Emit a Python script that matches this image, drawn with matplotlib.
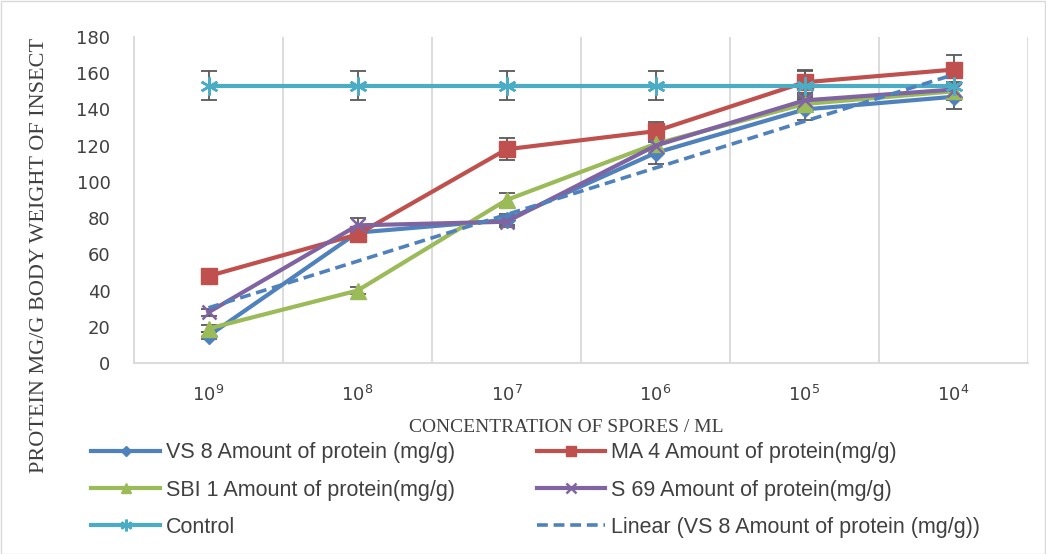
import matplotlib
matplotlib.use("Agg")
import matplotlib.pyplot as plt
import numpy as np
from matplotlib.patches import Rectangle

# data
concentrations = ["9", "8", "7", "6", "5", "4"]  # exponents of 10
vs8 = [15, 72, 79, 116, 140, 147]
ma4 = [48, 71, 118, 128, 155, 162]
sbi1 = [19, 40, 90, 121, 143, 150]
s69 = [28, 76, 78, 120, 145, 151]
control = [153, 153, 153, 153, 153, 153]

vs8_err = [2, 3, 3, 6, 6, 7]
ma4_err = [3, 3, 6, 5, 7, 8]
sbi1_err = [2, 2, 4, 4, 4, 4]
s69_err = [2, 4, 3, 4, 4, 4]
control_err = [8, 8, 8, 8, 8, 8]

W, H = 1046, 554
fig = plt.figure(figsize=(W / 100, H / 100), dpi=100)
ax = fig.add_axes([134 / W, 1 - 363 / H, (1028 - 134) / W, (363 - 37) / H])

x = np.arange(len(concentrations))
err_kw = dict(ecolor="#595959", elinewidth=1.3, capsize=6, capthick=1.3)

series = [
    ("VS 8 Amount of protein (mg/g)", vs8, vs8_err, "#4F81BD", "D", 8),
    ("MA 4 Amount of protein(mg/g)", ma4, ma4_err, "#C0504D", "s", 11),
    ("SBI 1 Amount of protein(mg/g)", sbi1, sbi1_err, "#9BBB59", "^", 11),
    ("S 69 Amount of protein(mg/g)", s69, s69_err, "#8064A2", "x", 10),
    ("Control", control, control_err, "#4BACC6", (6, 2, 0), 13),
]

handles = {}
for label, vals, err, color, marker, ms in series:
    ax.errorbar(x, vals, yerr=err, fmt="none", zorder=2, **err_kw)
    thin = marker == "x" or isinstance(marker, tuple)
    (ln,) = ax.plot(x, vals, color=color, lw=3, marker=marker, markersize=ms,
                    markeredgewidth=1.8 if thin else 1,
                    markeredgecolor=color, label=label, zorder=3)
    handles[label] = ln

# linear trendline for VS 8
coef = np.polyfit(x + 1, vs8, 1)
trend = np.polyval(coef, x + 1)
(tl,) = ax.plot(x, trend, color="#4F81BD", lw=2.6, ls=(0, (3, 1.6)),
                label="Linear (VS 8 Amount of protein (mg/g))", zorder=4)

ax.set_xlim(-0.5, len(x) - 0.5)
ax.set_ylim(0, 180)
ax.set_yticks(np.arange(0, 181, 20))
ax.set_xticks(x)
ax.set_xticklabels([r"$\mathregular{10^{%s}}$" % c for c in concentrations])
for b in np.arange(0.5, len(x), 1.0):
    ax.axvline(b, color="#D9D9D9", lw=1.3, zorder=0)

for s in ["top", "right"]:
    ax.spines[s].set_visible(False)
for s in ["left", "bottom"]:
    ax.spines[s].set_color("#D9D9D9")
    ax.spines[s].set_linewidth(1.3)
ax.tick_params(axis="both", length=0, labelsize=13, colors="#404040")
ax.tick_params(axis="x", pad=16)
ax.tick_params(axis="y", pad=17)

serif = ["Liberation Serif", "DejaVu Serif"]
fig.text(566 / W, 1 - 427 / H, "CONCENTRATION OF SPORES / ML", ha="center", va="center",
         fontsize=14, family=serif, color="#404040")
fig.text(40 / W, 1 - 255 / H, "PROTEIN MG/G BODY WEIGHT OF INSECT", ha="center", va="center",
         rotation=90, fontsize=16, family=serif, color="#404040")

order = ["VS 8 Amount of protein (mg/g)", "SBI 1 Amount of protein(mg/g)", "Control",
         "MA 4 Amount of protein(mg/g)", "S 69 Amount of protein(mg/g)"]
hs = [handles[k] for k in order] + [tl]
leg = fig.legend(hs, [h.get_label() for h in hs], ncol=2, frameon=False,
                 loc="upper left", bbox_to_anchor=(72 / W, 1 - 423 / H),
                 prop={"family": ["Liberation Sans", "DejaVu Sans"], "size": 15.5},
                 handlelength=3.2, handletextpad=0.25, columnspacing=3.8,
                 labelspacing=0.75, markerscale=0.65, labelcolor="#404040")

fig.patches.append(Rectangle((0.5 / W, 0.5 / H), 1 - 1.5 / W, 1 - 1.5 / H,
                             transform=fig.transFigure, fill=False,
                             edgecolor="#D9D9D9", lw=1))

fig.savefig("out.png", dpi=100)
